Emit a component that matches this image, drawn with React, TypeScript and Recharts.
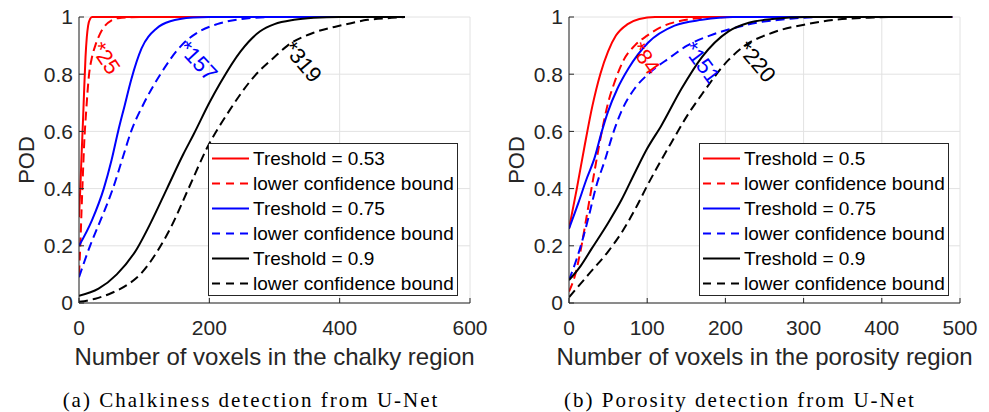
import React from "react";
import {
  LineChart,
  Line,
  XAxis,
  YAxis,
  CartesianGrid,
  ReferenceDot,
} from "recharts";

// ---- chalkiness panel (a) ----
const chalkXTicks = [0, 200, 400, 600];
const chalkT53X = [0, 2, 4, 6, 8, 10, 12, 14, 17, 20, 30, 100, 500];
const chalkT53Pod = [0.3, 0.4, 0.52, 0.63, 0.75, 0.86, 0.93, 0.97, 0.993, 1, 1, 1, 1];
const chalkT53LowX = [0, 2, 4, 6, 8, 11, 15, 20, 25, 32, 40, 50, 60, 100, 500];
const chalkT53LowPod = [0.1, 0.2, 0.33, 0.45, 0.56, 0.67, 0.79, 0.86, 0.9, 0.94, 0.97, 0.988, 0.996, 1, 1];
const chalkT75X = [0, 20, 38, 50, 60, 70, 80, 96, 119, 140, 175, 200, 500];
const chalkT75Pod = [0.2, 0.29, 0.4, 0.5, 0.6, 0.69, 0.78, 0.89, 0.96, 0.985, 0.998, 1, 1];
const chalkT75LowX = [0, 17, 35, 52, 66, 80, 100, 125, 157, 185, 212, 250, 300, 500];
const chalkT75LowPod = [0.09, 0.2, 0.3, 0.4, 0.5, 0.6, 0.7, 0.8, 0.9, 0.95, 0.975, 0.993, 1, 1];
const chalkT90X = [0, 30, 58, 89, 110, 135, 160, 176, 200, 217, 248, 278, 300, 330, 360, 400, 500];
const chalkT90Pod = [0.025, 0.05, 0.1, 0.19, 0.28, 0.4, 0.52, 0.59, 0.7, 0.77, 0.88, 0.95, 0.975, 0.99, 0.997, 1, 1];
const chalkT90LowX = [0, 25, 50, 75, 94, 120, 140, 170, 196, 230, 268, 300, 320, 360, 401, 443, 480, 500];
const chalkT90LowPod = [0.004, 0.015, 0.035, 0.065, 0.1, 0.18, 0.26, 0.41, 0.54, 0.67, 0.79, 0.86, 0.9, 0.945, 0.97, 0.99, 0.997, 1];
const chalkA9095 = [25, 157, 319];

// ---- porosity panel (b) ----
const poroXTicks = [0, 100, 200, 300, 400, 500];
const poroT50X = [0, 10, 20, 30, 40, 50, 60, 75, 90, 110, 490];
const poroT50Pod = [0.26, 0.4, 0.55, 0.69, 0.8, 0.88, 0.935, 0.975, 0.993, 1, 1];
const poroT50LowX = [0, 8, 16, 23, 30, 42, 50, 58, 70, 84, 100, 118, 140, 180, 220, 490];
const poroT50LowPod = [0.04, 0.1, 0.2, 0.31, 0.42, 0.6, 0.7, 0.77, 0.85, 0.9, 0.935, 0.965, 0.985, 0.998, 1, 1];
const poroT75X = [0, 12, 22, 33, 42, 50, 62, 76, 101, 135, 170, 210, 490];
const poroT75Pod = [0.26, 0.35, 0.43, 0.51, 0.6, 0.67, 0.75, 0.82, 0.91, 0.97, 0.99, 1, 1];
const poroT75LowX = [0, 14, 25, 35, 46, 56, 67, 84, 101, 130, 151, 180, 204, 240, 280, 320, 490];
const poroT75LowPod = [0.08, 0.19, 0.3, 0.41, 0.5, 0.59, 0.67, 0.75, 0.8, 0.86, 0.9, 0.935, 0.956, 0.98, 0.993, 1, 1];
const poroT90X = [0, 15, 29, 50, 67, 85, 100, 118, 144, 170, 204, 230, 260, 304, 490];
const poroT90Pod = [0.08, 0.13, 0.19, 0.28, 0.36, 0.46, 0.54, 0.62, 0.75, 0.86, 0.95, 0.98, 0.993, 1, 1];
const poroT90LowX = [0, 25, 50, 67, 85, 100, 118, 135, 150, 170, 204, 225, 260, 304, 340, 389, 420, 490];
const poroT90LowPod = [0.02, 0.1, 0.18, 0.245, 0.33, 0.41, 0.5, 0.58, 0.65, 0.73, 0.85, 0.9, 0.945, 0.975, 0.99, 0.998, 1, 1];
const poroA9095 = [84, 151, 220];

const podTicks = [0, 0.2, 0.4, 0.6, 0.8, 1];
const markerPod = 0.9;

const FONT = '"Liberation Sans", Arial, Helvetica, sans-serif';
const SERIF = '"Liberation Serif", "DejaVu Serif", serif';
const AXIS = "#262626";

type Pt = { x: number; pod: number };
const zip = (xs: number[], ys: number[]): Pt[] => xs.map((x, i) => ({ x, pod: ys[i] }));

type Series = { name: string; color: string; dashed: boolean; data: Pt[] };

const chalkSeries: Series[] = [
  { name: "Treshold = 0.53", color: "#ff0000", dashed: false, data: zip(chalkT53X, chalkT53Pod) },
  { name: "lower confidence bound", color: "#ff0000", dashed: true, data: zip(chalkT53LowX, chalkT53LowPod) },
  { name: "Treshold = 0.75", color: "#0000ff", dashed: false, data: zip(chalkT75X, chalkT75Pod) },
  { name: "lower confidence bound", color: "#0000ff", dashed: true, data: zip(chalkT75LowX, chalkT75LowPod) },
  { name: "Treshold = 0.9", color: "#000000", dashed: false, data: zip(chalkT90X, chalkT90Pod) },
  { name: "lower confidence bound", color: "#000000", dashed: true, data: zip(chalkT90LowX, chalkT90LowPod) },
];

const poroSeries: Series[] = [
  { name: "Treshold = 0.5", color: "#ff0000", dashed: false, data: zip(poroT50X, poroT50Pod) },
  { name: "lower confidence bound", color: "#ff0000", dashed: true, data: zip(poroT50LowX, poroT50LowPod) },
  { name: "Treshold = 0.75", color: "#0000ff", dashed: false, data: zip(poroT75X, poroT75Pod) },
  { name: "lower confidence bound", color: "#0000ff", dashed: true, data: zip(poroT75LowX, poroT75LowPod) },
  { name: "Treshold = 0.9", color: "#000000", dashed: false, data: zip(poroT90X, poroT90Pod) },
  { name: "lower confidence bound", color: "#000000", dashed: true, data: zip(poroT90LowX, poroT90LowPod) },
];

const markerColors = ["#ff0000", "#0000ff", "#000000"];

function MarkerText(props: any) {
  const { cx, cy, text, color, angle } = props;
  if (cx == null || cy == null) return null;
  return (
    <text
      x={cx}
      y={cy}
      transform={`rotate(${angle} ${cx} ${cy})`}
      fill={color}
      fontSize={22}
      fontFamily={FONT}
      dominantBaseline="middle"
    >
      {"*" + text}
    </text>
  );
}

function PodLegend({ series, left }: { series: Series[]; left: number }) {
  return (
    <div
      style={{
        position: "absolute",
        left,
        top: 143,
        width: 250,
        height: 153,
        boxSizing: "border-box",
        border: `1px solid ${AXIS}`,
        background: "#fff",
        paddingTop: 2,
        fontFamily: FONT,
        fontSize: 19,
        color: "#000",
      }}
    >
      {series.map((s, i) => (
        <div key={i} style={{ display: "flex", alignItems: "center", height: 25, whiteSpace: "nowrap" }}>
          <svg width={44} height={25} style={{ flex: "none" }}>
            <line
              x1={3}
              x2={40}
              y1={12.5}
              y2={12.5}
              stroke={s.color}
              strokeWidth={2}
              strokeDasharray={s.dashed ? "8 6" : undefined}
            />
          </svg>
          <span>{s.name}</span>
        </div>
      ))}
    </div>
  );
}

type PanelProps = {
  left: number;
  width: number;
  yAxisWidth: number;
  rightMargin: number;
  xMax: number;
  xTicks: number[];
  xLabel: string;
  podOffset: number;
  series: Series[];
  markers: number[];
  angles: number[];
  legendLeft: number;
};

function PodPanel(p: PanelProps) {
  return (
    <div style={{ position: "absolute", left: p.left, top: 0, width: p.width, height: 370 }}>
      <LineChart width={p.width} height={370} margin={{ top: 17, right: p.rightMargin, bottom: 0, left: 0 }}>
        <CartesianGrid stroke="#e2e2e2" strokeWidth={1} />
        <XAxis
          type="number"
          dataKey="x"
          domain={[0, p.xMax]}
          ticks={p.xTicks}
          interval={0}
          allowDataOverflow
          height={67}
          tickSize={-5}
          tickMargin={22}
          axisLine={{ stroke: AXIS }}
          tickLine={{ stroke: AXIS }}
          tick={{ fontSize: 21, fill: AXIS, fontFamily: FONT }}
          label={{
            value: p.xLabel,
            position: "insideBottom",
            offset: 5,
            style: { fontSize: 24, fill: AXIS, fontFamily: FONT },
          }}
        />
        <YAxis
          type="number"
          domain={[0, 1]}
          ticks={podTicks}
          interval={0}
          width={p.yAxisWidth}
          tickSize={-5}
          tickMargin={11}
          axisLine={{ stroke: AXIS }}
          tickLine={{ stroke: AXIS }}
          tick={{ fontSize: 21, fill: AXIS, fontFamily: FONT }}
          tickFormatter={(v: number) => String(v)}
          label={{
            value: "POD",
            angle: -90,
            position: "insideLeft",
            offset: p.podOffset,
            style: { fontSize: 22, fill: AXIS, fontFamily: FONT, textAnchor: "middle" },
          }}
        />
        {p.series.map((s, i) => (
          <Line
            key={i}
            data={s.data}
            dataKey="pod"
            type="monotone"
            stroke={s.color}
            strokeWidth={2}
            strokeDasharray={s.dashed ? "9 5" : undefined}
            dot={false}
            activeDot={false}
            isAnimationActive={false}
          />
        ))}
        {p.markers.map((m, i) => (
          <ReferenceDot
            key={"m" + i}
            x={m}
            y={markerPod}
            shape={(sp: any) => (
              <MarkerText cx={sp.cx} cy={sp.cy} text={String(m)} color={markerColors[i]} angle={p.angles[i]} />
            )}
          />
        ))}
      </LineChart>
      <PodLegend series={p.series} left={p.legendLeft} />
    </div>
  );
}

export default function App() {
  return (
    <div style={{ position: "absolute", left: 0, top: 0, width: 989, height: 412, background: "#fff", overflow: "hidden" }}>
      <PodPanel
        left={0}
        width={494}
        yAxisWidth={79}
        rightMargin={24}
        xMax={600}
        xTicks={chalkXTicks}
        xLabel="Number of voxels in the chalky region"
        podOffset={26}
        series={chalkSeries}
        markers={chalkA9095}
        angles={[56, 47, 50]}
        legendLeft={208}
      />
      <PodPanel
        left={494}
        width={495}
        yAxisWidth={75}
        rightMargin={29}
        xMax={500}
        xTicks={poroXTicks}
        xLabel="Number of voxels in the porosity region"
        podOffset={22}
        series={poroSeries}
        markers={poroA9095}
        angles={[55, 53, 50]}
        legendLeft={205}
      />
      <svg width={989} height={412} style={{ position: "absolute", left: 0, top: 0, pointerEvents: "none" }}>
        <text x={251} y={407} textAnchor="middle" fontSize={21} letterSpacing={2} fontFamily={SERIF} fill="#000">
          (a) Chalkiness detection from U-Net
        </text>
        <text x={740} y={407} textAnchor="middle" fontSize={21} letterSpacing={2} fontFamily={SERIF} fill="#000">
          (b) Porosity detection from U-Net
        </text>
      </svg>
    </div>
  );
}
